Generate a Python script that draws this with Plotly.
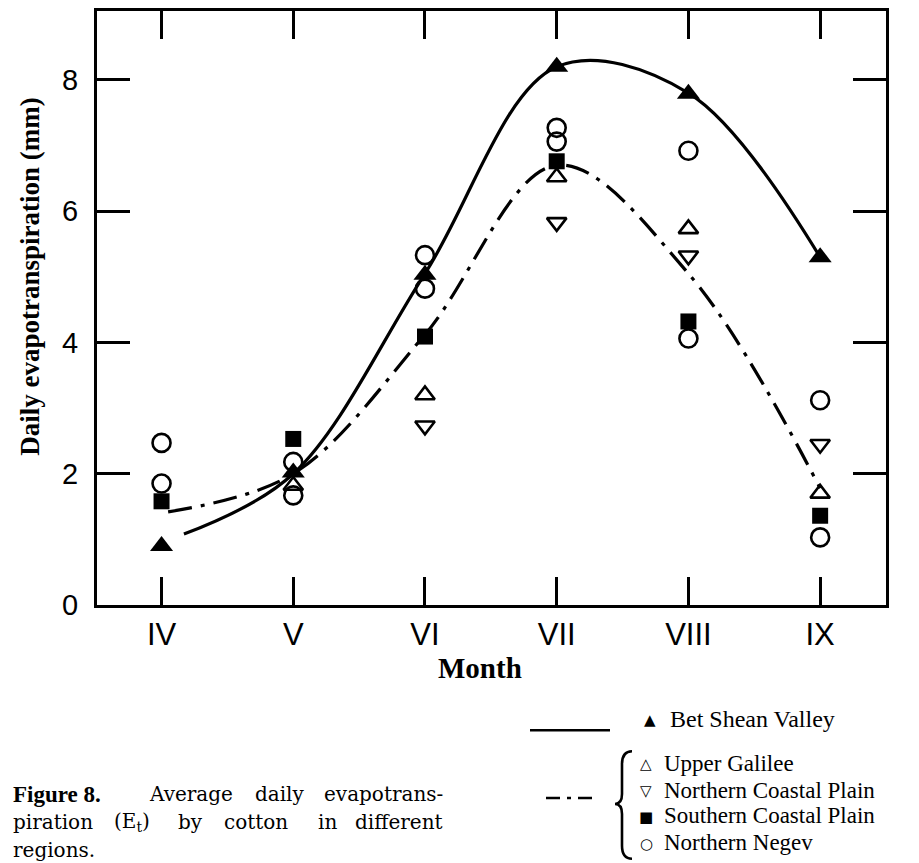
import plotly.graph_objects as go

# Months April (IV) .. September (IX)
months = [4, 5, 6, 7, 8, 9]
month_labels = ["IV", "V", "VI", "VII", "VIII", "IX"]

# Measured daily evapotranspiration (mm) per region
bet_shean = [0.90, 2.02, 5.03, 8.20, 7.79, 5.30]
upper_galilee = [None, 1.82, 3.20, 6.52, 5.73, 1.70]
n_coastal = [None, None, 2.73, 5.83, 5.32, 2.45]
s_coastal = [1.58, 2.53, 4.09, 6.76, 4.32, 1.36]
negev_a = [2.47, 2.18, 5.33, 7.27, 6.92, 3.12]
negev_b = [1.85, 1.67, 4.82, 7.06, 4.06, 1.03]

# Smoothed curves: Bet Shean Valley (solid) and the other regions (dash-dot)
fit_bet_x = [4.17, 5, 6, 7, 8, 9]
fit_bet_y = [1.08, 2.00, 5.05, 8.20, 7.80, 5.30]
fit_rest_x = [4.05, 5, 6, 7, 8, 9]
fit_rest_y = [1.42, 2.00, 4.12, 6.70, 5.05, 1.78]

W, H = 919, 863
L, R, T, B = 97, 886, 8, 605  # plot frame in pixels


def px(x):
    return (x - L) / (R - L)


def py(y):
    return (B - y) / (B - T)


fig = go.Figure()

fig.add_trace(go.Scatter(x=fit_bet_x, y=fit_bet_y, mode="lines",
                         line=dict(color="black", width=3.2, shape="spline", smoothing=1.0),
                         hoverinfo="skip"))
fig.add_trace(go.Scatter(x=fit_rest_x, y=fit_rest_y, mode="lines",
                         line=dict(color="black", width=3.2, shape="spline", smoothing=1.0,
                                   dash="24px,9px,4px,9px"),
                         hoverinfo="skip"))


def marks(y, symbol, size, open_=True):
    m = dict(symbol=symbol, size=size, color="black")
    if open_:
        m["line"] = dict(width=2.6, color="black")
    else:
        m["line"] = dict(width=0)
    fig.add_trace(go.Scatter(x=months, y=y, mode="markers", marker=m))


marks(negev_a, "circle-open", 18)
marks(negev_b, "circle-open", 18)
marks(upper_galilee, "triangle-up-open", 17)
marks(n_coastal, "triangle-down-open", 17)
marks(s_coastal, "square", 16, open_=False)
marks(bet_shean, "triangle-up", 20, open_=False)

serif = "Liberation Serif, Times New Roman, serif"
caption_font = "DejaVu Serif, serif"
sans = "Liberation Sans, Arial, sans-serif"

annotations = []


def text(s, x, y, size, family=serif, xanchor="left", angle=0, bold=False):
    if bold:
        s = "<b>" + s + "</b>"
    annotations.append(dict(text=s, x=px(x), y=py(y), xref="paper", yref="paper",
                            xanchor=xanchor, yanchor="middle", showarrow=False,
                            textangle=angle, font=dict(family=family, size=size, color="black")))


# axis titles
text("Daily evapotranspiration (mm)", 30, 275, 27, xanchor="center", angle=-90, bold=True)
text("Month", 480, 668, 29, xanchor="center", bold=True)

# legend
text("\u25B2", 650, 721, 15, family="DejaVu Sans", xanchor="center")
text("Bet Shean Valley", 668, 720, 24)
leg_rows = [("\u25B3", "Upper Galilee", 764),
            ("\u25BD", "Northern Coastal Plain", 791),
            ("\u25A0", "Southern Coastal Plain", 817),
            ("\u25CB", "Northern Negev", 844)]
for sym, name, y in leg_rows:
    text(sym, 646, y + 1, 15, family="DejaVu Sans", xanchor="center")
    text(name, 662, y, 23)

# caption, justified word by word
text("Figure 8.", 11, 795, 23, family=serif, bold=True)
text("Average", 147, 795, 20, family=caption_font)
text("daily", 253, 795, 20, family=caption_font)
text("evapotrans-", 445, 795, 20, family=caption_font, xanchor="right")
text("piration", 11, 823, 20, family=caption_font)
text("(E<sub>t</sub>)", 112, 823, 20, family=caption_font)
text("by", 176, 823, 20, family=caption_font)
text("cotton", 222, 823, 20, family=caption_font)
text("in", 316, 823, 20, family=caption_font)
text("different", 445, 823, 20, family=caption_font, xanchor="right")
text("regions.", 11, 851, 20, family=caption_font)

shapes = [
    # legend line samples
    dict(type="line", xref="paper", yref="paper", x0=px(530), x1=px(610), y0=py(731), y1=py(731),
         line=dict(color="black", width=2.5)),
    dict(type="line", xref="paper", yref="paper", x0=px(546), x1=px(596), y0=py(799), y1=py(799),
         line=dict(color="black", width=2.5, dash="14px,7px,4px,7px")),
]
# curly brace grouping the dash-dot regions
bx = [632, 622, 615]
by = [752, 805, 860]
brace = (f"M {px(bx[0])},{py(by[0])} Q {px(bx[1])},{py(by[0])} {px(bx[1])},{py(by[0] + 13)} "
         f"L {px(bx[1])},{py(by[1] - 10)} Q {px(bx[1])},{py(by[1])} {px(bx[2])},{py(by[1])} "
         f"Q {px(bx[1])},{py(by[1])} {px(bx[1])},{py(by[1] + 10)} "
         f"L {px(bx[1])},{py(by[2] - 13)} Q {px(bx[1])},{py(by[2])} {px(bx[0])},{py(by[2])}")
shapes.append(dict(type="path", xref="paper", yref="paper", path=brace,
                   line=dict(color="black", width=2.6)))

fig.update_layout(
    width=W, height=H,
    margin=dict(l=L, r=W - R, t=T, b=H - B),
    paper_bgcolor="white", plot_bgcolor="white",
    showlegend=False,
    annotations=annotations,
    shapes=shapes,
    xaxis=dict(range=[3.51, 9.5], tickvals=months, ticktext=month_labels,
               ticks="inside", ticklen=28, tickwidth=2.5, tickcolor="black",
               showline=True, linewidth=3, linecolor="black", mirror="ticks",
               showgrid=False, zeroline=False,
               tickfont=dict(family=sans, size=31, color="black")),
    yaxis=dict(range=[0, 9.05], tickvals=[0, 2, 4, 6, 8],
               ticks="inside", ticklen=33, tickwidth=2.5, tickcolor="black",
               showline=True, linewidth=3, linecolor="black", mirror="ticks",
               showgrid=False, zeroline=False, ticklabelstandoff=10,
               tickfont=dict(family=sans, size=29, color="black")),
)

fig.write_html("out.html")
